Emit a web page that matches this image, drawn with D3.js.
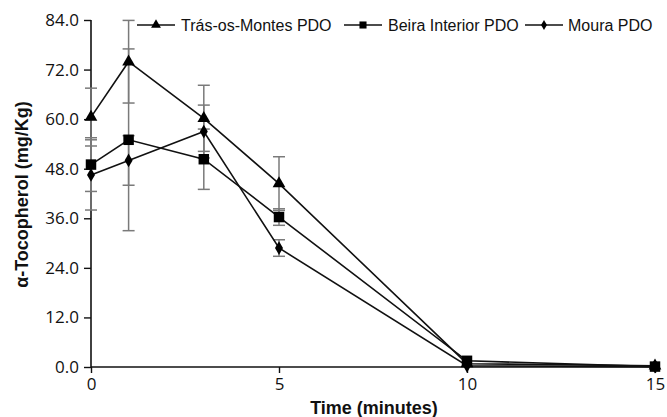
<!DOCTYPE html>
<html>
<head>
<meta charset="utf-8">
<script src="https://cdn.jsdelivr.net/npm/d3@7"></script>
<style>
  html, body { margin: 0; padding: 0; background: #ffffff; }
  svg { display: block; }
</style>
</head>
<body>
<svg id="chart" width="667" height="417"></svg>
<script>
// ---- data ----
const times = [0, 1, 3, 5, 10, 15];
const seriesNames = ["Trás-os-Montes PDO", "Beira Interior PDO", "Moura PDO"];
const trasValues  = [60.5, 73.9, 60.2, 44.4, 0.8, 0.3];
const trasErrors  = [7.0, 10.0, 8.0, 6.5, 0, 0];
const beiraValues = [49.0, 55.0, 50.3, 36.3, 1.5, 0.1];
const beiraErrors = [6.5, 22.0, 7.3, 2.0, 0, 0];
const mouraValues = [46.5, 50.0, 57.0, 28.8, 0.3, 0.1];
const mouraErrors = [8.5, 6.0, 6.4, 2.0, 0, 0];
const yTicks = [0, 12, 24, 36, 48, 60, 72, 84];
const xTicks = [0, 5, 10, 15];
const yTitle = "α-Tocopherol (mg/Kg)";
const xTitle = "Time (minutes)";

(function () {
const series = [
  { name: seriesNames[0], values: trasValues,  errors: trasErrors,  symbol: d3.symbolTriangle, size: 70, legSize: 42 },
  { name: seriesNames[1], values: beiraValues, errors: beiraErrors, symbol: d3.symbolSquare,   size: 110, legSize: 50 },
  { name: seriesNames[2], values: mouraValues, errors: mouraErrors, symbol: d3.symbolDiamond,  size: 55, legSize: 30 }
];

// ---- layout ----
const svg = d3.select("#chart");
const mLeft = 91, mRight = 655, mTop = 20, mBottom = 367;

const x = d3.scaleLinear().domain([0, 15]).range([mLeft, mRight]);
const y = d3.scaleLinear().domain([0, 84]).range([mBottom, mTop]);

// ---- axes ----
const yAxis = d3.axisLeft(y).tickValues(yTicks).tickFormat(d3.format(".1f")).tickSize(7).tickPadding(5);
const xAxis = d3.axisBottom(x).tickValues(xTicks).tickFormat(d3.format("d")).tickSize(6).tickPadding(5);

const gy = svg.append("g").attr("transform", `translate(${mLeft},0)`).call(yAxis);
const gx = svg.append("g").attr("transform", `translate(0,${mBottom})`).call(xAxis);
[gx, gy].forEach(g => {
  g.select(".domain").attr("stroke", "#111").attr("stroke-width", 1.6);
  g.selectAll(".tick line").attr("stroke", "#111").attr("stroke-width", 1.4);
  g.selectAll(".tick text")
    .attr("fill", "#111")
    .style("font-family", "'Open Sans', sans-serif")
    .style("font-size", "17px");
});
gy.select(".domain").attr("d", `M0,${mBottom}V${mTop}`);
gx.select(".domain").attr("d", `M${mLeft},0H${mRight + 2}`);

// ---- axis titles ----
svg.append("text")
  .attr("transform", `translate(28,${(mTop + mBottom) / 2 + 1}) rotate(-90)`)
  .attr("text-anchor", "middle")
  .style("font-family", "'Liberation Sans', Arial, sans-serif")
  .style("font-weight", "bold")
  .style("font-size", "18px")
  .attr("fill", "#111")
  .text(yTitle);

svg.append("text")
  .attr("x", 374).attr("y", 414)
  .attr("text-anchor", "middle")
  .style("font-family", "'Liberation Sans', Arial, sans-serif")
  .style("font-weight", "bold")
  .style("font-size", "18px")
  .attr("fill", "#111")
  .text(xTitle);

// ---- error bars ----
const errG = svg.append("g").attr("stroke", "#7a7a7a").attr("stroke-width", 1.5).attr("fill", "none");
series.forEach(s => {
  s.values.forEach((v, i) => {
    const e = s.errors[i];
    if (!e) return;
    const cx = x(times[i]);
    errG.append("line").attr("x1", cx).attr("x2", cx).attr("y1", y(v - e)).attr("y2", y(v + e));
    [v - e, v + e].forEach(b => {
      errG.append("line").attr("x1", cx - 6).attr("x2", cx + 6).attr("y1", y(b)).attr("y2", y(b));
    });
  });
});

// ---- lines & markers ----
const line = d3.line().x((d, i) => x(times[i])).y(d => y(d));
const drawOrder = [2, 1, 0];
drawOrder.forEach(k => {
  const s = series[k];
  svg.append("path")
    .attr("d", line(s.values))
    .attr("fill", "none")
    .attr("stroke", "#111")
    .attr("stroke-width", 1.6);
});
drawOrder.forEach(k => {
  const s = series[k];
  svg.append("g").selectAll("path")
    .data(s.values)
    .join("path")
    .attr("transform", (d, i) => `translate(${x(times[i])},${y(d)})`)
    .attr("d", d3.symbol().type(s.symbol).size(s.size))
    .attr("fill", "#000");
});

// ---- legend ----
const legendItems = [
  { lx: 137, tx: 181 },
  { lx: 344, tx: 388 },
  { lx: 525, tx: 568 }
];
const legY = 25;
series.forEach((s, i) => {
  const it = legendItems[i];
  const g = svg.append("g");
  g.append("line")
    .attr("x1", it.lx).attr("x2", it.lx + 38)
    .attr("y1", legY).attr("y2", legY)
    .attr("stroke", "#111").attr("stroke-width", 1.6);
  g.append("path")
    .attr("transform", `translate(${it.lx + 19},${legY})`)
    .attr("d", d3.symbol().type(s.symbol).size(s.legSize))
    .attr("fill", "#000");
  g.append("text")
    .attr("x", it.tx).attr("y", legY + 6)
    .style("font-family", "'Liberation Sans', Arial, sans-serif")
    .style("font-size", "16px")
    .attr("fill", "#111")
    .text(s.name);
});
})();
</script>
</body>
</html>
